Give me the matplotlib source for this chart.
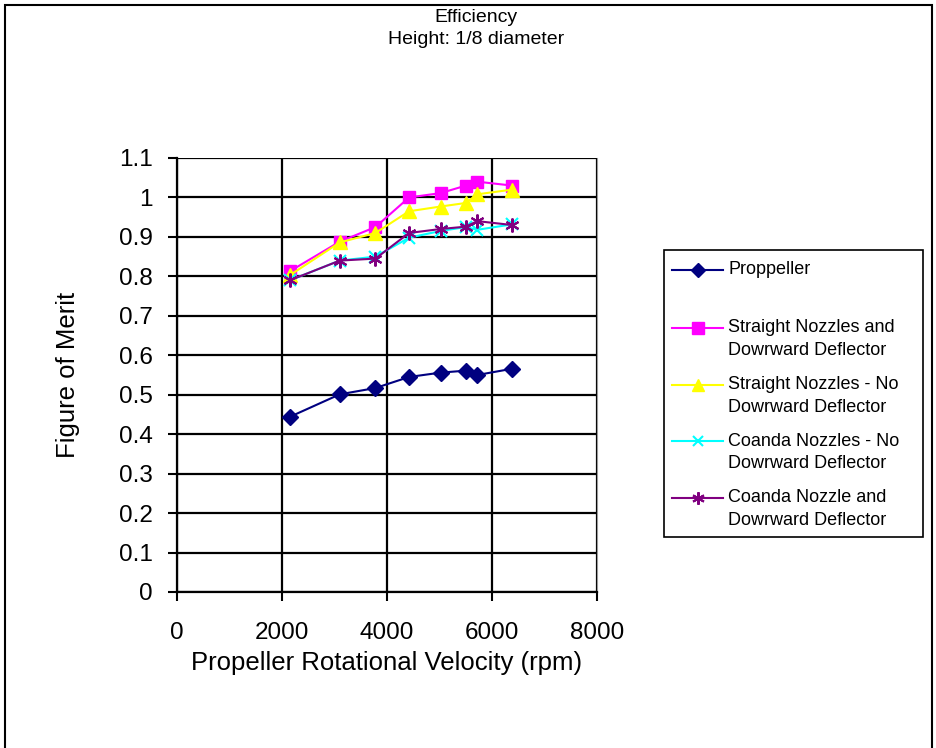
import numpy as np
import matplotlib.pyplot as plt
from matplotlib.lines import Line2D
from matplotlib.patches import Rectangle

plt.rcParams['font.family'] = ['Liberation Sans', 'DejaVu Sans']

# rpm values (shared by all series)
rpm = [2150, 3100, 3780, 4420, 5020, 5500, 5720, 6390]

propeller = [0.444, 0.501, 0.517, 0.545, 0.556, 0.561, 0.550, 0.566]
straight_defl = [0.813, 0.888, 0.925, 1.000, 1.011, 1.030, 1.040, 1.030]
straight_nodefl = [0.803, 0.886, 0.910, 0.965, 0.977, 0.986, 1.008, 1.020]
coanda_nodefl = [0.790, 0.840, 0.850, 0.898, 0.915, 0.925, 0.918, 0.932]
coanda_defl = [0.790, 0.840, 0.845, 0.910, 0.920, 0.926, 0.940, 0.930]

labels = ["Proppeller",
          "Straight Nozzles and\nDowrward Deflector",
          "Straight Nozzles - No\nDowrward Deflector",
          "Coanda Nozzles - No\nDowrward Deflector",
          "Coanda Nozzle and\nDowrward Deflector"]
series = [propeller, straight_defl, straight_nodefl, coanda_nodefl, coanda_defl]
colors = ['#000080', '#FF00FF', '#FFFF00', '#00FFFF', '#800080']
markers = ['D', 's', '^', 'x', (6, 2, 0)]
msizes = [8, 9, 10, 8, 10]

W, H = 937, 748
fig = plt.figure(figsize=(W / 100, H / 100), dpi=100)

def fx(x):
    return x / W

def fy(y):
    return 1 - y / H

ax = fig.add_axes([fx(177), fy(592), (597 - 177) / W, (592 - 158) / H])

for vals, c, m, ms in zip(series, colors, markers, msizes):
    ax.plot(rpm, vals, color=c, lw=1.5, marker=m, markersize=ms,
            markeredgewidth=1.5 if m in ('x', (6, 2, 0)) else 1, clip_on=False)

ax.set_xlim(0, 8000)
ax.set_ylim(0, 1.1)
ax.set_xticks(np.arange(0, 8001, 2000))
ax.set_yticks(np.round(np.arange(0, 1.11, 0.1), 1))
ax.set_yticklabels(['0', '0.1', '0.2', '0.3', '0.4', '0.5', '0.6', '0.7',
                    '0.8', '0.9', '1', '1.1'])
ax.grid(True, color='black', lw=1.6)
ax.set_axisbelow(True)
ax.tick_params(direction='out', length=6.5, width=1.5, labelsize=17.5)
ax.tick_params(axis='y', pad=11)
ax.tick_params(axis='x', pad=15)
ax.spines['top'].set_visible(False)
ax.spines['right'].set_color('#999999')
ax.spines['left'].set_linewidth(1.6)
ax.spines['bottom'].set_linewidth(1.6)
ax.set_xlabel('Propeller Rotational Velocity (rpm)', fontsize=18.5, labelpad=5)
ax.set_ylabel('Figure of Merit', fontsize=18.5, labelpad=28)

fig.text(fx(476), fy(17), 'Efficiency', ha='center', va='center', fontsize=14)
fig.text(fx(476), fy(39), 'Height: 1/8 diameter', ha='center', va='center', fontsize=14)

# outer chart border
fig.patches.append(Rectangle((fx(5), -0.02), (932 - 5) / W, fy(5) + 0.02,
                             transform=fig.transFigure, fill=False,
                             edgecolor='black', lw=1.5))

# legend box, Excel style
fig.patches.append(Rectangle((fx(664), fy(537)), (923 - 664) / W, (537 - 250) / H,
                             transform=fig.transFigure, fill=False,
                             edgecolor='black', lw=1.2))
row_y = [270, 328, 385, 441, 498]
for lab, c, m, ms, y in zip(labels, colors, markers, msizes, row_y):
    fig.add_artist(Line2D([fx(672), fx(723)], [fy(y), fy(y)], color=c, lw=1.5,
                          transform=fig.transFigure))
    fig.add_artist(Line2D([fx(698)], [fy(y)], color=c, marker=m, markersize=ms - 1,
                          markeredgewidth=1.5 if m in ('x', (6, 2, 0)) else 1,
                          transform=fig.transFigure))
    for i, line in enumerate(lab.split('\n')):
        fig.text(fx(728), fy(y + i * 22.7), line, ha='left', va='center', fontsize=13)

fig.savefig('out.png', dpi=100)
